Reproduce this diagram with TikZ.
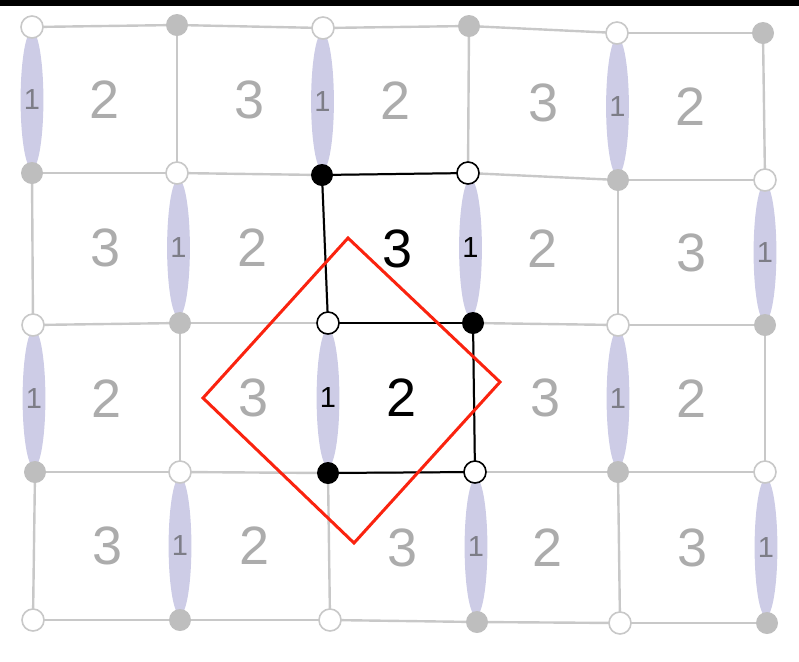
\documentclass[tikz,border=0pt]{standalone}
\usepackage{fontspec}
\setmainfont{Liberation Sans}
\usetikzlibrary{shapes.geometric,calc}
\definecolor{edgegray}{RGB}{200,200,200}
\definecolor{dotgray}{RGB}{190,190,190}
\definecolor{numgray}{RGB}{172,172,172}
\definecolor{bondgray}{RGB}{125,125,135}
\definecolor{lilac}{RGB}{205,204,230}
\definecolor{redline}{RGB}{250,35,15}

% r/c/x/y/style of the lattice sites
\def\sitelist{0/0/32/27/vopen, 0/1/177/25/vgray, 0/2/323/28/vopen, 0/3/469/26/vgray, 0/4/617/33/vopen, 0/5/763/33/vgray,
  1/0/32/173/vgray, 1/1/177/173/vopen, 1/2/322/175/vblack, 1/3/468/173/vring, 1/4/618/180/vgray, 1/5/765/180/vopen,
  2/0/33/325/vopen, 2/1/180/323/vgray, 2/2/328/323/vring, 2/3/473/323/vblack, 2/4/618/325/vopen, 2/5/765/325/vgray,
  3/0/35/472/vgray, 3/1/180/472/vopen, 3/2/328/473/vblack, 3/3/475/472/vring, 3/4/618/472/vgray, 3/5/765/472/vopen,
  4/0/33/620/vopen, 4/1/180/620/vgray, 4/2/330/620/vopen, 4/3/477/622/vgray, 4/4/620/623/vopen, 4/5/767/623/vgray}

\begin{document}
\begin{tikzpicture}[
    x=0.5pt, y=-0.5pt,
    grid/.style={draw=edgegray, line width=1.2pt},
    plaq/.style={draw=black, line width=1pt},
    vtx/.style={circle, inner sep=0pt, minimum size=11pt, line width=0.8pt},
    vopen/.style={vtx, draw=edgegray, fill=white},
    vgray/.style={vtx, fill=dotgray},
    vblack/.style={vtx, fill=black},
    vring/.style={vtx, draw=black, fill=white},
    bond/.style={ellipse, fill=lilac, inner sep=0pt, minimum width=11pt, minimum height=69pt, font=\fontsize{14.5}{14.5}\selectfont},
    cell/.style={font=\fontsize{27}{27}\selectfont},
  ]
  \useasboundingbox (0,0) rectangle (799,661);
  \fill[black] (0,0) rectangle (799,6);

  % sites
  \foreach \r/\c/\x/\y/\k in \sitelist
    \coordinate (p-\r-\c) at (\x,\y);

  % lattice edges
  \foreach \r in {0,...,4}
    \foreach \c in {0,...,4} {
      \pgfmathtruncatemacro\nc{\c+1}
      \draw[grid] (p-\r-\c) -- (p-\r-\nc);
    }
  \foreach \r in {0,...,3}
    \foreach \c in {0,...,5} {
      \pgfmathtruncatemacro\nr{\r+1}
      \draw[grid] (p-\r-\c) -- (p-\nr-\c);
    }

  % the two marked cells
  \draw[plaq] (p-1-2) -- (p-1-3) -- (p-2-3) -- (p-3-3) -- (p-3-2) -- (p-2-2) -- cycle;
  \draw[plaq] (p-2-2) -- (p-2-3);

  % bonds
  \foreach \r/\c/\t in {0/0/bondgray, 0/2/bondgray, 0/4/bondgray, 1/1/bondgray, 1/3/black, 1/5/bondgray,
                        2/0/bondgray, 2/2/black, 2/4/bondgray, 3/1/bondgray, 3/3/bondgray, 3/5/bondgray} {
    \pgfmathtruncatemacro\nr{\r+1}
    \node[bond, text=\t] (e-\r-\c) at ($(p-\r-\c)!0.5!(p-\nr-\c)$) {1};
  }

  \foreach \r/\c/\x/\y/\k in \sitelist
    \node[\k] (v-\r-\c) at (p-\r-\c) {};

  \draw[redline, line width=1.5pt] (348,238) -- (500,382) -- (354,543) -- (203,398) -- cycle;

  % plaquette labels
  \foreach \r in {0,...,3}
    \foreach \c in {0,...,4} {
      \pgfmathtruncatemacro\nr{\r+1}
      \pgfmathtruncatemacro\nc{\c+1}
      \pgfmathtruncatemacro\n{2+mod(\r+\c,2)}
      \ifnum\c=2 \ifnum\r>0 \ifnum\r<3 \def\tc{black}\else\def\tc{numgray}\fi\else\def\tc{numgray}\fi\else\def\tc{numgray}\fi
      \node[cell, text=\tc] (c-\r-\c) at ($(p-\r-\c)!0.5!(p-\nr-\nc)$) {\n};
    }
\end{tikzpicture}
\end{document}
